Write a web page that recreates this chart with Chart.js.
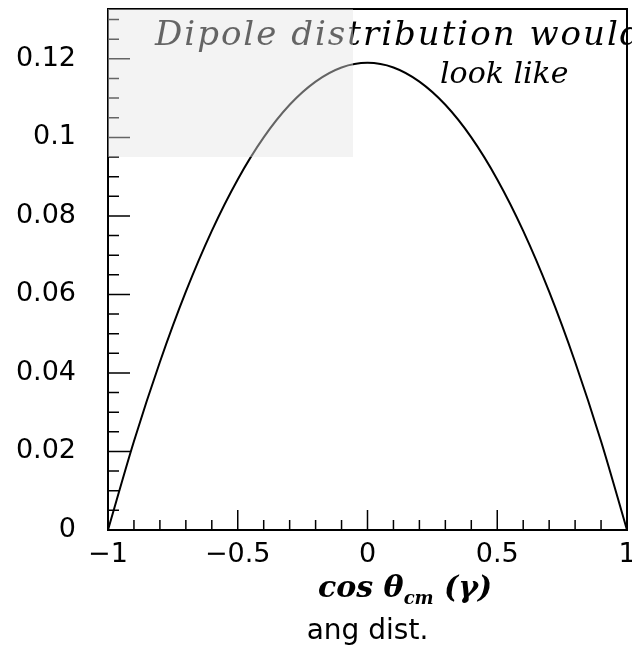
<!DOCTYPE html>
<html>
<head>
<meta charset="utf-8">
<script src="https://cdn.jsdelivr.net/npm/chart.js@4.4.1/dist/chart.umd.min.js"></script>
<style>
  html, body { margin: 0; padding: 0; background: #fff; overflow: hidden; }
  #wrap { position: relative; width: 632px; height: 651px; overflow: hidden; }
  canvas { position: absolute; left: 0; top: 0; }
  .hand { position: absolute; font-family: "DejaVu Serif", serif; font-style: italic; color: #000; white-space: nowrap; line-height: 1; }
  #note1 { left: 155px; top: 16px; font-size: 34px; letter-spacing: 2px; }
  #note2 { left: 440px; top: 58px; font-size: 30px; }
  #note3 { left: 318px; top: 572px; font-size: 30px; font-weight: bold; }
  #note3 sub { font-size: 18px; }
  #fade { position: absolute; left: 108px; top: 9px; width: 245px; height: 148px; background: rgba(228, 228, 228, 0.44); }
</style>
</head>
<body>
<div id="wrap">
  <canvas id="myChart" width="632" height="651"></canvas>
  <div class="hand" id="note1">Dipole distribution would</div>
  <div class="hand" id="note2">look like</div>
  <div class="hand" id="note3">cos θ<sub>cm</sub> (γ)</div>
  <div id="fade"></div>
</div>
<script>
// cos(theta) values and the curve
const cosTheta = [-1, -0.9, -0.8, -0.7, -0.6, -0.5, -0.4, -0.3, -0.2, -0.1, 0,
                  0.1, 0.2, 0.3, 0.4, 0.5, 0.6, 0.7, 0.8, 0.9, 1];
const angDist = [0, 0.0226, 0.0428, 0.0607, 0.0762, 0.0893, 0.1000, 0.1083, 0.1142, 0.1178, 0.1190,
                 0.1178, 0.1142, 0.1083, 0.1000, 0.0893, 0.0762, 0.0607, 0.0428, 0.0226, 0];

const xTicks = [-1, -0.5, 0, 0.5, 1];
const xTickLabels = ['\u22121', '\u22120.5', '0', '0.5', '1'];
const yTicks = [0, 0.02, 0.04, 0.06, 0.08, 0.1, 0.12];
const yTickLabels = ['0', '0.02', '0.04', '0.06', '0.08', '0.1', '0.12'];

const tickFont = { family: 'DejaVu Sans', size: 27 };

// frame + inside ticks, ROOT style
const frameTicks = {
  id: 'frameTicks',
  afterDraw(chart) {
    const { ctx, chartArea: a, scales: { x, y } } = chart;
    ctx.save();
    ctx.strokeStyle = '#000';
    ctx.lineWidth = 2;
    ctx.strokeRect(a.left, a.top, a.right - a.left, a.bottom - a.top);
    ctx.lineWidth = 1.5;
    ctx.beginPath();
    for (let i = 1; i < 20; i++) {
      const px = x.getPixelForValue(-1 + i * 0.1);
      const len = i % 5 === 0 ? 20 : 10;
      ctx.moveTo(px, a.bottom);
      ctx.lineTo(px, a.bottom - len);
    }
    for (let i = 1; i <= 26; i++) {
      const py = y.getPixelForValue(i * 0.005);
      const len = i % 4 === 0 ? 22 : 11;
      ctx.moveTo(a.left, py);
      ctx.lineTo(a.left + len, py);
    }
    ctx.stroke();
    ctx.restore();
  }
};

const ctx = document.getElementById('myChart');
let myChart = new Chart(ctx, {
  type: 'line',
  data: {
    datasets: [{
      label: 'ang dist.',
      data: cosTheta.map((c, i) => ({ x: c, y: angDist[i] })),
      borderColor: '#000',
      borderWidth: 2,
      pointRadius: 0,
      cubicInterpolationMode: 'monotone',
      fill: false
    }]
  },
  options: {
    responsive: false,
    animation: false,
    layout: { padding: { top: 9, right: 5, left: 0, bottom: 0 } },
    plugins: { legend: { display: false }, tooltip: { enabled: false } },
    scales: {
      x: {
        type: 'linear',
        min: -1,
        max: 1,
        grid: { display: false, drawTicks: false },
        border: { display: false },
        afterBuildTicks: s => { s.ticks = xTicks.map(v => ({ value: v })); },
        afterFit: s => { s.height = 121; s.paddingLeft = 0; s.paddingRight = 0; },
        ticks: {
          padding: 9,
          color: '#000',
          font: tickFont,
          maxRotation: 0,
          autoSkip: false,
          callback: (v, i) => xTickLabels[i]
        },
        title: {
          display: true,
          text: 'ang dist.',
          color: '#000',
          font: { family: 'DejaVu Sans', size: 28 },
          padding: { top: 0, bottom: 2 }
        }
      },
      y: {
        min: 0,
        max: 0.1327,
        grid: { display: false, drawTicks: false },
        border: { display: false },
        afterBuildTicks: s => { s.ticks = yTicks.map(v => ({ value: v })); },
        afterFit: s => { s.width = 108; s.paddingTop = 0; s.paddingBottom = 0; },
        ticks: {
          padding: 32,
          color: '#000',
          font: tickFont,
          autoSkip: false,
          callback: (v, i) => yTickLabels[i]
        }
      }
    }
  },
  plugins: [frameTicks]
});
</script>
</body>
</html>
